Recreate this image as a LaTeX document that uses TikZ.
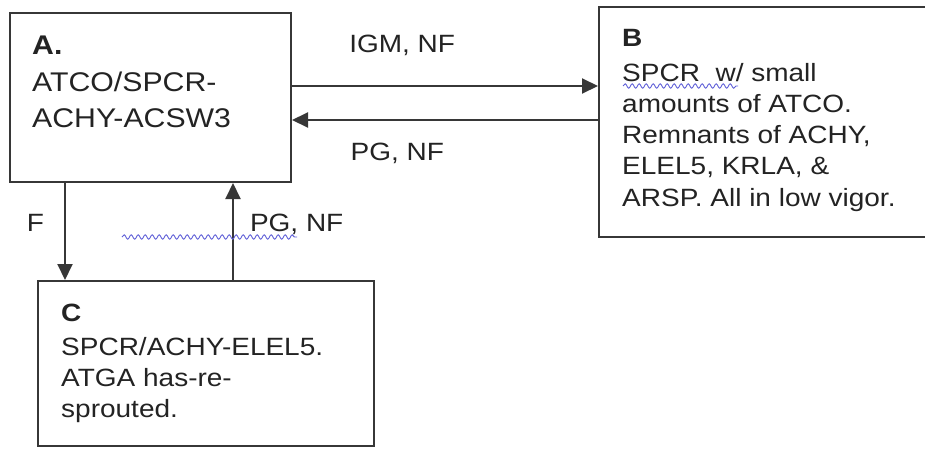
\documentclass[tikz,border=0pt]{standalone}
\usepackage{fontspec}
\setmainfont{Liberation Sans}[FakeStretch=1.12]
\usetikzlibrary{arrows.meta, positioning, calc, decorations.pathmorphing}
\definecolor{spellblue}{RGB}{95,95,215}
\definecolor{inkgray}{RGB}{35,35,35}
\definecolor{linegray}{RGB}{55,55,55}

\begin{document}
\begin{tikzpicture}[x=1pt, y=-1pt,
  stage/.style={draw=linegray, line width=2pt, inner sep=0pt},
  flow/.style={-{Triangle[length=16pt,width=15pt]}, line width=2pt, draw=linegray},
  lbl/.style={inner sep=0pt, text=inkgray, font=\fontsize{25}{31}\selectfont},
  boxtext/.style={inner sep=0pt, anchor=north west, align=left, text=inkgray},
  squiggle/.style={spellblue, line width=0.9pt, decorate, decoration={snake, amplitude=2.2pt, segment length=7pt}}]
\useasboundingbox (0,0) rectangle (925,450);

% the three states
\node[stage, minimum width=281pt, minimum height=169pt] (boxA) at (150.5,97.5) {};
\node[stage, minimum width=333pt, minimum height=230pt] (boxB) at (765.5,122) {};
\node[stage, minimum width=336pt, minimum height=165pt] (boxC) at (206,363.5) {};

\node[boxtext, font=\fontsize{27}{36.5}\selectfont] (txtA) at ($(boxA.north west)+(23,24)$)
  {\textbf{A.}\\ATCO/SPCR-\\ACHY-ACSW3};
\node[boxtext, font=\fontsize{25}{31.25}\selectfont] (txtB) at ($(boxB.north west)+(24,23)$)
  {\textbf{B}\\[3.5pt]SPCR\ \ w/ small\\amounts of ATCO.\\Remnants of ACHY,\\ELEL5, KRLA, \&\\ARSP. All in low vigor.};
\node[boxtext, font=\fontsize{25}{31}\selectfont] (txtC) at ($(boxC.north west)+(24,24)$)
  {\textbf{C}\\[3pt]SPCR/ACHY-ELEL5.\\ATGA has-re-\\sprouted.};

% transitions
\draw[flow] ($(boxA.east)+(0,-11.5)$) -- ($(boxB.west)+(0,-36)$)
      node[lbl, pos=.36, anchor=base, yshift=34pt] (lblIGM) {IGM, NF};
\draw[flow] ($(boxB.west)+(0,-2)$) -- ($(boxA.east)+(0,22.5)$)
      node[lbl, pos=.656, anchor=base, yshift=-40pt] (lblPGa) {PG, NF};
\draw[flow] ($(boxA.south)+(-85.5,0)$) -- ($(boxC.north)+(-141,0)$)
      node[lbl, pos=.5, anchor=base east, xshift=-20pt] (lblF) {F};
\draw[flow] ($(boxC.north)+(27,0)$) -- ($(boxA.south)+(82.5,0)$)
      node[lbl, pos=.495, anchor=base west, xshift=16pt] (lblPGb) {PG, NF};

% spell-check marks
\draw[squiggle] (122,237) -- (297,237);
\draw[squiggle] (623,86) -- (738,86);
\end{tikzpicture}
\end{document}
